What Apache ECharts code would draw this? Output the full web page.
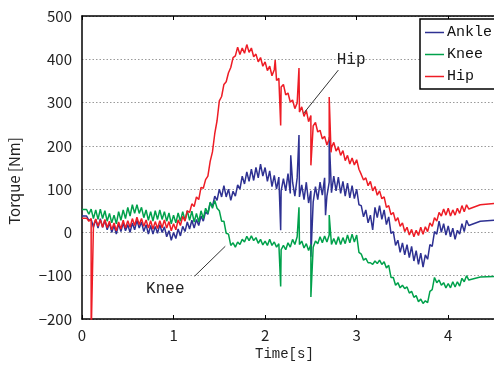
<!DOCTYPE html>
<html>
<head>
<meta charset="utf-8">
<script src="https://cdn.jsdelivr.net/npm/echarts@6/dist/echarts.min.js"></script>
<style>html,body{margin:0;padding:0;background:#fff;}#c{width:494px;height:365px;}</style>
</head>
<body>
<div id="c"></div>
<script>
// sample times [s]
const time = [
0,0.025,0.05,0.075,0.1,0.125,0.15,0.175,0.2,0.225,0.25,0.275,0.3,0.325,0.35,0.375,0.4,0.425,0.45,0.475,
0.5,0.525,0.55,0.575,0.6,0.625,0.65,0.675,0.7,0.725,0.75,0.775,0.8,0.825,0.85,0.875,0.9,0.925,0.95,0.975,
1.0,1.025,1.05,1.075,1.1,1.125,1.15,1.175,1.2,1.225,1.25,1.275,1.3,1.325,1.35,1.375,1.4,1.425,1.45,1.475,
1.5,1.525,1.55,1.575,1.6,1.625,1.65,1.675,1.7,1.725,1.75,1.775,1.8,1.825,1.85,1.875,1.9,1.925,1.95,1.975,
2.0,2.025,2.05,2.075,2.1,2.125,2.15,2.175,2.2,2.225,2.25,2.275,2.3,2.325,2.35,2.375,2.4,2.425,2.45,2.475,
2.5,2.525,2.55,2.575,2.6,2.625,2.65,2.675,2.7,2.725,2.75,2.775,2.8,2.825,2.85,2.875,2.9,2.925,2.95,2.975,
3.0,3.025,3.05,3.075,3.1,3.125,3.15,3.175,3.2,3.225,3.25,3.275,3.3,3.325,3.35,3.375,3.4,3.425,3.45,3.475,
3.5,3.525,3.55,3.575,3.6,3.625,3.65,3.675,3.7,3.725,3.75,3.775,3.8,3.825,3.85,3.875,3.9,3.925,3.95,3.975,
4.0,4.025,4.05,4.075,4.1,4.125,4.15,4.175,4.2,4.225,4.35,4.5
];
const ankle = [
38,38,38,28,30,12,30,10,32,12,28,6,22,0,16,-4,20,2,22,4,
18,0,22,6,28,10,24,2,18,-4,16,-4,14,-2,18,0,13,-10,4,-18,
0,-14,8,-8,14,2,24,8,28,10,30,16,38,26,48,42,68,60,84,74,
100,82,108,82,100,74,95,84,110,100,130,112,140,118,146,120,150,126,158,130,
150,118,142,106,132,100,128,96,124,96,136,90,116,84,126,82,110,76,116,68,
96,70,106,76,116,86,126,84,116,92,130,96,128,90,118,84,114,80,108,78,
100,64,62,36,52,22,40,6,58,34,62,30,52,18,36,-2,2,-30,-18,-46,
-24,-52,-28,-58,-32,-66,-42,-74,-48,-80,-52,-62,-28,-32,2,-4,26,0,20,-6,
15,-10,10,-16,5,-4,20,2,28,16,26,28
];
const knee = [
53,53,53,42,54,32,52,30,54,32,50,26,44,22,40,20,48,28,52,32,
58,38,64,44,64,44,58,34,52,28,48,26,50,30,52,30,48,26,45,20,
40,22,45,26,48,28,50,28,49,24,44,24,50,32,56,44,70,56,74,56,
50,26,26,-2,-4,-30,-24,-34,-22,-28,-16,-22,-9,-19,-8,-19,-12,-25,-16,-29,
-20,-30,-16,-30,-22,-34,-26,-40,-30,-40,-24,-34,-16,-28,-10,-28,-20,-36,-26,-42,
-28,-34,-20,-26,-10,-24,-8,-22,-6,-28,-14,-28,-10,-28,-12,-26,-6,-24,-4,-22,
-6,-46,-50,-64,-60,-70,-70,-74,-66,-72,-64,-74,-68,-82,-76,-104,-104,-122,-116,-128,
-122,-130,-126,-140,-136,-150,-146,-160,-154,-164,-158,-162,-136,-132,-104,-116,-110,-122,-116,-128,
-118,-128,-114,-126,-114,-124,-106,-114,-100,-110,-103,-102
];
const hip = [
33,33,33,26,32,16,31,14,29,12,30,11,26,6,22,4,24,8,28,10,
27,12,32,16,35,18,32,14,29,10,27,8,25,9,27,11,29,10,25,4,
20,6,29,16,37,26,50,46,66,60,82,76,104,102,122,130,164,186,228,258,
304,314,342,348,369,381,404,408,428,411,426,414,434,416,426,406,412,394,404,384,
394,374,384,362,376,351,356,336,342,318,322,301,306,286,299,278,290,268,282,256,
270,246,254,232,236,216,222,202,216,196,208,188,197,178,189,166,178,158,172,156,
168,146,134,121,126,108,118,96,106,86,96,78,82,58,62,41,46,26,34,14,
22,2,12,-6,7,-10,5,-7,12,-4,13,2,22,14,34,26,46,38,54,40,
56,38,52,40,56,44,62,48,64,54,64,67
];
// short spikes [time, value]
const ankleSpikes = [[2.17,5],[2.28,178],[2.37,225],[2.5,-56],[2.66,40],[2.7,220]];
const kneeSpikes = [[2.17,-125],[2.37,58],[2.5,-149],[2.7,40]];
const hipSpikes = [[0.1,-240],[2.11,398],[2.17,247],[2.37,380],[2.5,155],[2.7,313],[2.72,185]];

const seriesNames = ['Ankle','Knee','Hip'];
const seriesColors = ['#2e3192','#00a14b','#ee1c25'];
const yTicks = [-200,-100,0,100,200,300,400,500];
const xTicks = [0,1,2,3,4];
// annotations: text position, arrow start, arrow end (data coords)
const annotations = {
  Hip: {text:[2.94,398], from:[2.80,375], to:[2.42,275]},
  Knee: {text:[0.91,-131], from:[1.23,-101], to:[1.565,-32]}
};

function build(vals, spikes){
  const pts = time.map((t,i)=>[t, vals[i]]);
  return pts.concat(spikes).sort((a,b)=>a[0]-b[0]);
}
const mono = '"Liberation Mono","DejaVu Sans Mono",monospace';
const sans = '"Noto Sans CJK JP","Noto Sans",sans-serif';
const fmtNum = v => v < 0 ? '\u2212' + (-v) : String(v);

function annot(name){
  const a = annotations[name];
  if(!a) return {};
  return {
    markLine: {
      silent: true, animation: false,
      symbol: ['none','arrow'], symbolSize: [0, 8],
      lineStyle: {color:'#333', width:1, type:'solid'},
      label: {show:false},
      data: [[{coord:a.from},{coord:a.to}]]
    },
    markPoint: {
      silent: true, animation: false,
      symbol: 'circle', symbolSize: 1,
      itemStyle: {color:'rgba(0,0,0,0)'},
      label: {show:true, position:'inside', formatter:name, color:'#222', fontSize:16, fontFamily:mono},
      data: [{coord:a.text}]
    }
  };
}

const dataSets = [build(ankle, ankleSpikes), build(knee, kneeSpikes), build(hip, hipSpikes)];

const chart = echarts.init(document.getElementById('c'), null, {renderer:'canvas'});
chart.setOption({
  animation: false,
  backgroundColor: '#fff',
  grid: {left: 82, top: 16, width: 414, height: 303, show: false},
  legend: {
    data: seriesNames,
    orient: 'vertical', left: 420, top: 19,
    backgroundColor: '#fff',
    borderColor: '#000', borderWidth: 1.5, borderRadius: 0,
    padding: [6, 60, 5, 5],
    icon: 'rect',
    itemWidth: 19, itemHeight: 1.5, itemGap: 7,
    textStyle: {fontFamily: mono, fontSize: 15, color: '#111', padding:[0,0,0,-2]}
  },
  xAxis: [{
    type: 'value', min: 0, max: 4.5, interval: 1,
    axisLine: {onZero: false, lineStyle: {color:'#000', width:1.5}},
    axisTick: {inside: true, length: 4, lineStyle:{color:'#000'}},
    axisLabel: {margin: 9, fontSize: 15, fontFamily: sans, color:'#222', showMaxLabel:false,
      formatter: v => xTicks.indexOf(v) >= 0 ? String(v) : ''},
    splitLine: {show: false}
  },{
    type: 'value', position: 'top', min: 0, max: 4.5, interval: 1,
    axisLine: {onZero: false, lineStyle: {color:'#000', width:1.5}},
    axisTick: {inside: true, length: 4, lineStyle:{color:'#000'}},
    axisLabel: {show:false}, splitLine:{show:false}
  }],
  yAxis: {
    type: 'value', min: -200, max: 500, interval: 100,
    axisLine: {show: true, onZero: false, lineStyle: {color:'#000', width:1.5}},
    axisTick: {show: false},
    axisLabel: {margin: 10, fontSize: 15, fontFamily: sans, color:'#222',
      formatter: v => yTicks.indexOf(v) >= 0 ? fmtNum(v) : ''},
    splitLine: {show: true, lineStyle: {color:'#9a9a9a', type:[1.5,2], width:1}}
  },
  graphic: [
    {type:'text', left: 255, top: 347, style:{text:'Time[s]', font:'14px ' + mono, fill:'#222'}},
    {type:'text', x: 14, y: 181, rotation: Math.PI/2, style:{text:'Torque [Nm]', font:'15px ' + sans, fill:'#222', textAlign:'center', textVerticalAlign:'middle'}}
  ],
  series: seriesNames.map((n,i)=>Object.assign({
    name: n, type: 'line', data: dataSets[i],
    symbol: 'none', showSymbol: false,
    lineStyle: {color: seriesColors[i], width: 1.5},
    itemStyle: {color: seriesColors[i]},
    z: 2 + i
  }, annot(n)))
});
</script>
</body>
</html>
